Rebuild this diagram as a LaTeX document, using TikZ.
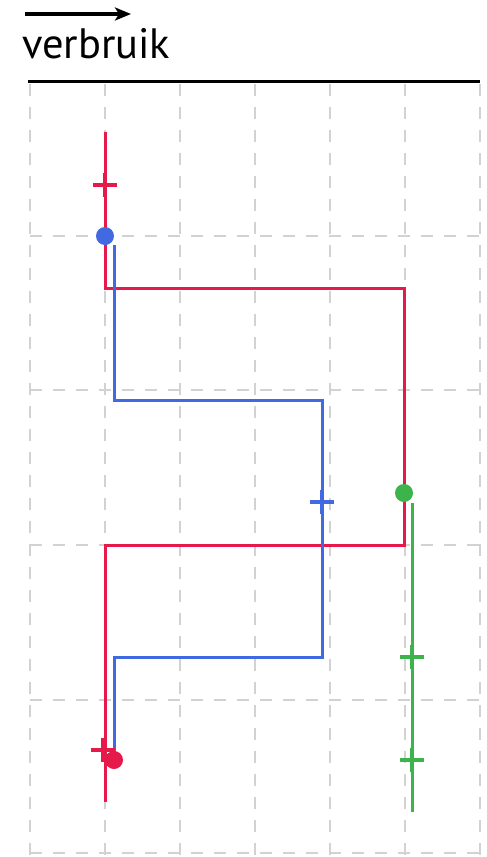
\documentclass[tikz,border=0pt]{standalone}
\usepackage{fontspec}
\setmainfont{PT Sans}
\usetikzlibrary{shapes.misc, arrows.meta}

\definecolor{linered}{RGB}{230,25,75}
\definecolor{lineblue}{RGB}{65,105,225}
\definecolor{linegreen}{RGB}{60,180,75}
\definecolor{gridgray}{RGB}{210,210,210}

\begin{document}
\begin{tikzpicture}[
        x=1pt, y=-1pt,
        gridline/.style={draw=gridgray, line width=2.2pt, dash pattern=on 12pt off 11pt},
        flowline/.style={line width=3pt},
        dotnode/.style={circle, fill=#1, inner sep=0pt, minimum size=18pt},
        crossnode/.style={cross out, draw=#1, line width=3.6pt, rotate=45, inner sep=0pt, minimum size=13pt},
]
        \useasboundingbox (0,0) rectangle (487,857);

        % raster
        \foreach \x in {30,105,180,255,330,405,480}
            \draw[gridline] (\x,84) -- (\x,857);
        \foreach \y in {236,390,545,700,853}
            \draw[gridline] (30,\y) -- (480,\y);

        % kop
        \coordinate (arrowstart) at (25,14);
        \coordinate (arrowend) at (131,14);
        \draw[-{Stealth[length=16pt, width=13pt, inset=4pt]}, line width=4pt] (arrowstart) -- (arrowend);
        \node[anchor=base west, inner sep=0pt, font=\fontsize{42.5}{46}\selectfont] (label) at (22,58) {verbruik};
        \coordinate (axisleft) at (28,81);
        \coordinate (axisright) at (480,81);
        \draw[line width=3pt] (axisleft) -- (axisright);

        % rode lijn
        \coordinate (r0) at (105,132);
        \coordinate (r1) at (105,288);
        \coordinate (r2) at (404,288);
        \coordinate (r3) at (404,545);
        \coordinate (r4) at (105,545);
        \coordinate (r5) at (105,802);
        \draw[flowline, linered] (r0) -- (r1) -- (r2) -- (r3) -- (r4) -- (r5);

        % blauwe lijn
        \coordinate (b0) at (114,245);
        \coordinate (b1) at (114,400);
        \coordinate (b2) at (322,400);
        \coordinate (b3) at (322,657);
        \coordinate (b4) at (114,657);
        \coordinate (b5) at (114,760);
        \draw[flowline, lineblue] (b0) -- (b1) -- (b2) -- (b3) -- (b4) -- (b5);

        % groene lijn
        \coordinate (g0) at (412,503);
        \coordinate (g1) at (412,812);
        \draw[flowline, linegreen] (g0) -- (g1);

        % markeringen
        \node[crossnode=linered] (redcrosstop) at (105,185) {};
        \node[crossnode=linered] (redcrossbottom) at (103,750) {};
        \node[crossnode=lineblue] (bluecross) at (322,502) {};
        \node[crossnode=linegreen] (greencrossa) at (412,657) {};
        \node[crossnode=linegreen] (greencrossb) at (412,760) {};
        \node[dotnode=lineblue] (bluedot) at (105,236) {};
        \node[dotnode=linegreen] (greendot) at (404,493) {};
        \node[dotnode=linered] (reddot) at (114,760) {};
\end{tikzpicture}
\end{document}
